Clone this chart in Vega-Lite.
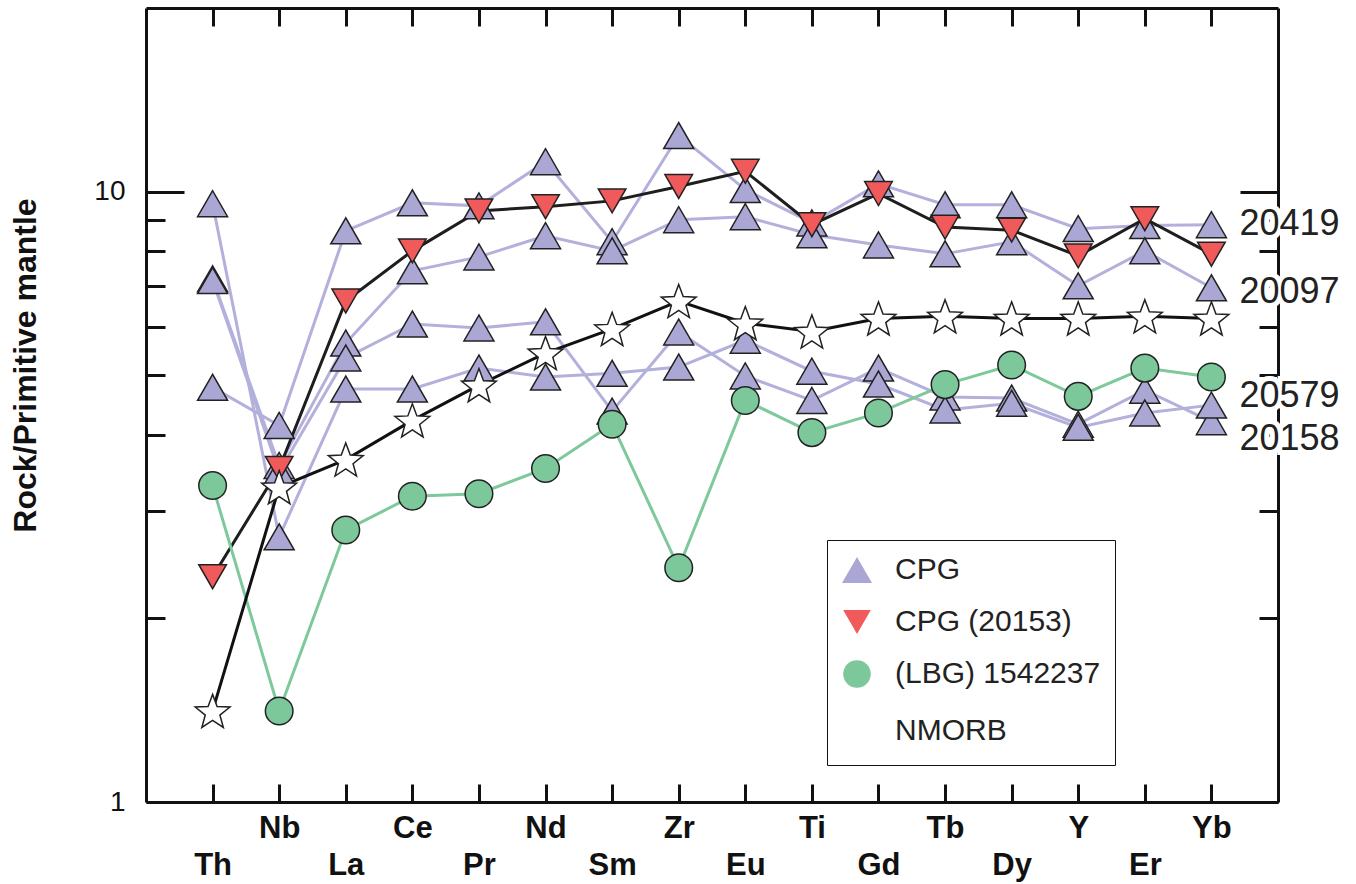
{
  "$schema": "https://vega.github.io/schema/vega-lite/v6.json",
  "width": 1132,
  "height": 794,
  "autosize": {"type": "none"},
  "padding": {"left": 146, "top": 8, "right": 78, "bottom": 82},
  "background": "white",
  "config": {
    "view": {"stroke": null},
    "font": "Liberation Sans",
    "axis": {"domainColor": "#111", "domainWidth": 3, "tickColor": "#111", "tickWidth": 3, "grid": false, "labelColor": "#111", "titleColor": "#111"}
  },
  "datasets": {
    "series": [
      {"group": "CPG", "sample": "20419", "el": "Th", "v": 4.78},
      {"group": "CPG", "sample": "20419", "el": "Nb", "v": 4.14},
      {"group": "CPG", "sample": "20419", "el": "La", "v": 8.63},
      {"group": "CPG", "sample": "20419", "el": "Ce", "v": 9.59},
      {"group": "CPG", "sample": "20419", "el": "Pr", "v": 9.48},
      {"group": "CPG", "sample": "20419", "el": "Nd", "v": 11.2},
      {"group": "CPG", "sample": "20419", "el": "Sm", "v": 8.28},
      {"group": "CPG", "sample": "20419", "el": "Zr", "v": 12.36},
      {"group": "CPG", "sample": "20419", "el": "Eu", "v": 10.08},
      {"group": "CPG", "sample": "20419", "el": "Ti", "v": 8.89},
      {"group": "CPG", "sample": "20419", "el": "Gd", "v": 10.3},
      {"group": "CPG", "sample": "20419", "el": "Tb", "v": 9.52},
      {"group": "CPG", "sample": "20419", "el": "Dy", "v": 9.52},
      {"group": "CPG", "sample": "20419", "el": "Y", "v": 8.7},
      {"group": "CPG", "sample": "20419", "el": "Er", "v": 8.8},
      {"group": "CPG", "sample": "20419", "el": "Yb", "v": 8.83},
      {"group": "CPG", "sample": "20097", "el": "Th", "v": 7.2},
      {"group": "CPG", "sample": "20097", "el": "Nb", "v": 3.56},
      {"group": "CPG", "sample": "20097", "el": "La", "v": 5.65},
      {"group": "CPG", "sample": "20097", "el": "Ce", "v": 7.42},
      {"group": "CPG", "sample": "20097", "el": "Pr", "v": 7.82},
      {"group": "CPG", "sample": "20097", "el": "Nd", "v": 8.47},
      {"group": "CPG", "sample": "20097", "el": "Sm", "v": 8.0},
      {"group": "CPG", "sample": "20097", "el": "Zr", "v": 9.0},
      {"group": "CPG", "sample": "20097", "el": "Eu", "v": 9.1},
      {"group": "CPG", "sample": "20097", "el": "Ti", "v": 8.5},
      {"group": "CPG", "sample": "20097", "el": "Gd", "v": 8.18},
      {"group": "CPG", "sample": "20097", "el": "Tb", "v": 7.91},
      {"group": "CPG", "sample": "20097", "el": "Dy", "v": 8.28},
      {"group": "CPG", "sample": "20097", "el": "Y", "v": 7.01},
      {"group": "CPG", "sample": "20097", "el": "Er", "v": 8.0},
      {"group": "CPG", "sample": "20097", "el": "Yb", "v": 6.96},
      {"group": "CPG", "sample": "20158", "el": "Th", "v": 7.15},
      {"group": "CPG", "sample": "20158", "el": "Nb", "v": 3.48},
      {"group": "CPG", "sample": "20158", "el": "La", "v": 5.34},
      {"group": "CPG", "sample": "20158", "el": "Ce", "v": 6.07},
      {"group": "CPG", "sample": "20158", "el": "Pr", "v": 5.98},
      {"group": "CPG", "sample": "20158", "el": "Nd", "v": 6.12},
      {"group": "CPG", "sample": "20158", "el": "Sm", "v": 4.37},
      {"group": "CPG", "sample": "20158", "el": "Zr", "v": 5.89},
      {"group": "CPG", "sample": "20158", "el": "Eu", "v": 4.99},
      {"group": "CPG", "sample": "20158", "el": "Ti", "v": 4.55},
      {"group": "CPG", "sample": "20158", "el": "Gd", "v": 5.14},
      {"group": "CPG", "sample": "20158", "el": "Tb", "v": 4.61},
      {"group": "CPG", "sample": "20158", "el": "Dy", "v": 4.59},
      {"group": "CPG", "sample": "20158", "el": "Y", "v": 4.16},
      {"group": "CPG", "sample": "20158", "el": "Er", "v": 4.73},
      {"group": "CPG", "sample": "20158", "el": "Yb", "v": 4.2},
      {"group": "CPG", "sample": "20579", "el": "Th", "v": 9.56},
      {"group": "CPG", "sample": "20579", "el": "Nb", "v": 2.72},
      {"group": "CPG", "sample": "20579", "el": "La", "v": 4.75},
      {"group": "CPG", "sample": "20579", "el": "Ce", "v": 4.75},
      {"group": "CPG", "sample": "20579", "el": "Pr", "v": 5.14},
      {"group": "CPG", "sample": "20579", "el": "Nd", "v": 4.97},
      {"group": "CPG", "sample": "20579", "el": "Sm", "v": 5.04},
      {"group": "CPG", "sample": "20579", "el": "Zr", "v": 5.16},
      {"group": "CPG", "sample": "20579", "el": "Eu", "v": 5.71},
      {"group": "CPG", "sample": "20579", "el": "Ti", "v": 5.08},
      {"group": "CPG", "sample": "20579", "el": "Gd", "v": 4.84},
      {"group": "CPG", "sample": "20579", "el": "Tb", "v": 4.39},
      {"group": "CPG", "sample": "20579", "el": "Dy", "v": 4.5},
      {"group": "CPG", "sample": "20579", "el": "Y", "v": 4.11},
      {"group": "CPG", "sample": "20579", "el": "Er", "v": 4.34},
      {"group": "CPG", "sample": "20579", "el": "Yb", "v": 4.47},
      {"group": "CPG (20153)", "sample": "20153", "el": "Th", "v": 2.34},
      {"group": "CPG (20153)", "sample": "20153", "el": "Nb", "v": 3.52},
      {"group": "CPG (20153)", "sample": "20153", "el": "La", "v": 6.62},
      {"group": "CPG (20153)", "sample": "20153", "el": "Ce", "v": 8.0},
      {"group": "CPG (20153)", "sample": "20153", "el": "Pr", "v": 9.3},
      {"group": "CPG (20153)", "sample": "20153", "el": "Nd", "v": 9.45},
      {"group": "CPG (20153)", "sample": "20153", "el": "Sm", "v": 9.66},
      {"group": "CPG (20153)", "sample": "20153", "el": "Zr", "v": 10.2},
      {"group": "CPG (20153)", "sample": "20153", "el": "Eu", "v": 10.8},
      {"group": "CPG (20153)", "sample": "20153", "el": "Ti", "v": 8.83},
      {"group": "CPG (20153)", "sample": "20153", "el": "Gd", "v": 9.93},
      {"group": "CPG (20153)", "sample": "20153", "el": "Tb", "v": 8.75},
      {"group": "CPG (20153)", "sample": "20153", "el": "Dy", "v": 8.65},
      {"group": "CPG (20153)", "sample": "20153", "el": "Y", "v": 7.85},
      {"group": "CPG (20153)", "sample": "20153", "el": "Er", "v": 9.03},
      {"group": "CPG (20153)", "sample": "20153", "el": "Yb", "v": 7.9},
      {"group": "(LBG) 1542237", "sample": "1542237", "el": "Th", "v": 3.3},
      {"group": "(LBG) 1542237", "sample": "1542237", "el": "Nb", "v": 1.41},
      {"group": "(LBG) 1542237", "sample": "1542237", "el": "La", "v": 2.79},
      {"group": "(LBG) 1542237", "sample": "1542237", "el": "Ce", "v": 3.17},
      {"group": "(LBG) 1542237", "sample": "1542237", "el": "Pr", "v": 3.2},
      {"group": "(LBG) 1542237", "sample": "1542237", "el": "Nd", "v": 3.52},
      {"group": "(LBG) 1542237", "sample": "1542237", "el": "Sm", "v": 4.16},
      {"group": "(LBG) 1542237", "sample": "1542237", "el": "Zr", "v": 2.42},
      {"group": "(LBG) 1542237", "sample": "1542237", "el": "Eu", "v": 4.55},
      {"group": "(LBG) 1542237", "sample": "1542237", "el": "Ti", "v": 4.03},
      {"group": "(LBG) 1542237", "sample": "1542237", "el": "Gd", "v": 4.34},
      {"group": "(LBG) 1542237", "sample": "1542237", "el": "Tb", "v": 4.83},
      {"group": "(LBG) 1542237", "sample": "1542237", "el": "Dy", "v": 5.2},
      {"group": "(LBG) 1542237", "sample": "1542237", "el": "Y", "v": 4.62},
      {"group": "(LBG) 1542237", "sample": "1542237", "el": "Er", "v": 5.14},
      {"group": "(LBG) 1542237", "sample": "1542237", "el": "Yb", "v": 4.97},
      {"group": "NMORB", "sample": "NMORB", "el": "Th", "v": 1.41},
      {"group": "NMORB", "sample": "NMORB", "el": "Nb", "v": 3.28},
      {"group": "NMORB", "sample": "NMORB", "el": "La", "v": 3.64},
      {"group": "NMORB", "sample": "NMORB", "el": "Ce", "v": 4.22},
      {"group": "NMORB", "sample": "NMORB", "el": "Pr", "v": 4.82},
      {"group": "NMORB", "sample": "NMORB", "el": "Nd", "v": 5.44},
      {"group": "NMORB", "sample": "NMORB", "el": "Sm", "v": 5.96},
      {"group": "NMORB", "sample": "NMORB", "el": "Zr", "v": 6.62},
      {"group": "NMORB", "sample": "NMORB", "el": "Eu", "v": 6.09},
      {"group": "NMORB", "sample": "NMORB", "el": "Ti", "v": 5.9},
      {"group": "NMORB", "sample": "NMORB", "el": "Gd", "v": 6.2},
      {"group": "NMORB", "sample": "NMORB", "el": "Tb", "v": 6.25},
      {"group": "NMORB", "sample": "NMORB", "el": "Dy", "v": 6.2},
      {"group": "NMORB", "sample": "NMORB", "el": "Y", "v": 6.2},
      {"group": "NMORB", "sample": "NMORB", "el": "Er", "v": 6.25},
      {"group": "NMORB", "sample": "NMORB", "el": "Yb", "v": 6.2}
    ],
    "labels": [
      {"label": "20419", "el": "Yb", "v": 8.85},
      {"label": "20097", "el": "Yb", "v": 6.85},
      {"label": "20579", "el": "Yb", "v": 4.62},
      {"label": "20158", "el": "Yb", "v": 3.94}
    ]
  },
  "layer": [
    {
      "data": {"name": "series"},
      "mark": {"type": "line", "strokeWidth": 3},
      "encoding": {
        "x": {
          "field": "el", "type": "ordinal",
          "sort": ["Th","Nb","La","Ce","Pr","Nd","Sm","Zr","Eu","Ti","Gd","Tb","Dy","Y","Er","Yb"],
          "scale": {"type": "point", "padding": 1},
          "axis": {
            "orient": "bottom", "title": null, "labelAngle": 0, "tickSize": -18,
            "labelFontSize": 31, "labelFontWeight": "bold", "labelFont": "Liberation Sans",
            "labelPadding": {"condition": {"test": "indexof(['Th','La','Pr','Sm','Eu','Gd','Dy','Er'], datum.value) >= 0", "value": 66}, "value": 29}
          }
        },
        "y": {
          "field": "v", "type": "quantitative",
          "scale": {"type": "log", "domain": [1, 20], "nice": false},
          "axis": {
            "orient": "left", "values": [2,3,4,5,6,7,8,9], "labels": false, "tickSize": -19,
            "title": "Rock/Primitive mantle", "titleFontSize": 32, "titleFontWeight": "bold",
            "titleAngle": -90, "titleX": -121, "titleY": 357, "titleBaseline": "middle", "titleAlign": "center"
          }
        },
        "detail": {"field": "sample"},
        "stroke": {
          "field": "sample", "type": "nominal", "legend": null,
          "scale": {"domain": ["20419", "20097", "20158", "20579", "20153", "1542237", "NMORB"], "range": ["#b3b0dc", "#b3b0dc", "#b3b0dc", "#b3b0dc", "#1e1e1e", "#7ec99b", "#111111"]}
        }
      }
    },
    {
      "data": {"name": "series"},
      "mark": {"type": "point", "filled": true, "stroke": "#222", "strokeWidth": 1.5, "opacity": 1, "size": 900},
      "encoding": {
        "x": {
          "field": "el", "type": "ordinal",
          "sort": ["Th","Nb","La","Ce","Pr","Nd","Sm","Zr","Eu","Ti","Gd","Tb","Dy","Y","Er","Yb"],
          "axis": {"orient": "top", "title": null, "labels": false, "tickSize": -18}
        },
        "y": {
          "field": "v", "type": "quantitative",
          "axis": {"orient": "right", "values": [2,3,4,5,6,7,8,9], "labels": false, "title": null, "tickSize": -19}
        },
        "fill": {
          "field": "group", "type": "nominal",
          "scale": {"domain": ["CPG", "CPG (20153)", "(LBG) 1542237", "NMORB"], "range": ["#aaa7d5", "#f05a5a", "#7cc89a", "#ffffff"]},
          "legend": {"title": null, "orient": "none", "legendX": 681, "legendY": 532, "strokeColor": "#111", "fillColor": "white", "padding": 14, "rowPadding": 20, "labelFontSize": 30, "labelFont": "Liberation Sans", "labelColor": "#222", "labelOffset": 22, "labelLimit": 400, "symbolSize": 900, "symbolStrokeColor": "#222", "symbolStrokeWidth": 1.5, "encode": {"legend": {"strokeWidth": {"value": 2.5}}, "symbols": {"stroke": {"value": "#222"}, "strokeWidth": {"value": 1.5}}}}
        },
        "shape": {
          "field": "group", "type": "nominal",
          "scale": {"domain": ["CPG", "CPG (20153)", "(LBG) 1542237", "NMORB"], "range": ["triangle-up", "M-0.92,-0.797L0.92,-0.797L0,0.797Z", "M0.92,0A0.92,0.92,0,1,1,-0.92,0A0.92,0.92,0,1,1,0.92,0Z", "M0,-1.104L0.301,-0.299L1.16,-0.261L0.487,0.275L0.717,1.103L0,0.628L-0.717,1.103L-0.487,0.275L-1.16,-0.261L-0.301,-0.299Z"]},
          "legend": {"title": null, "orient": "none", "legendX": 681, "legendY": 532, "strokeColor": "#111", "fillColor": "white", "padding": 14, "rowPadding": 20, "labelFontSize": 30, "labelFont": "Liberation Sans", "labelColor": "#222", "labelOffset": 22, "labelLimit": 400, "symbolSize": 900, "symbolStrokeColor": "#222", "symbolStrokeWidth": 1.5, "encode": {"legend": {"strokeWidth": {"value": 2.5}}, "symbols": {"stroke": {"value": "#222"}, "strokeWidth": {"value": 1.5}}}}
        }
      }
    },
    {
      "data": {"name": "labels"},
      "mark": {"type": "text", "align": "left", "baseline": "middle", "dx": 28, "fontSize": 36, "font": "Liberation Sans", "stroke": "white", "strokeWidth": 10, "fill": "white"},
      "encoding": {
        "x": {"field": "el", "type": "ordinal", "sort": ["Th","Nb","La","Ce","Pr","Nd","Sm","Zr","Eu","Ti","Gd","Tb","Dy","Y","Er","Yb"], "axis": null},
        "y": {
          "field": "v", "type": "quantitative",
          "axis": {"orient": "left", "values": [1, 10], "tickSize": -38, "labelPadding": 59, "labelFontSize": 28, "title": null, "domain": false}
        },
        "text": {"field": "label"}
      }
    },
    {
      "data": {"name": "labels"},
      "mark": {"type": "text", "align": "left", "baseline": "middle", "dx": 28, "fontSize": 36, "font": "Liberation Sans", "fill": "#222"},
      "encoding": {
        "x": {"field": "el", "type": "ordinal", "sort": ["Th","Nb","La","Ce","Pr","Nd","Sm","Zr","Eu","Ti","Gd","Tb","Dy","Y","Er","Yb"], "axis": null},
        "y": {
          "field": "v", "type": "quantitative",
          "axis": {"orient": "right", "values": [1, 10], "tickSize": -38, "labels": false, "title": null, "domain": false}
        },
        "text": {"field": "label"}
      }
    }
  ],
  "resolve": {"axis": {"x": "independent", "y": "independent"}}
}
